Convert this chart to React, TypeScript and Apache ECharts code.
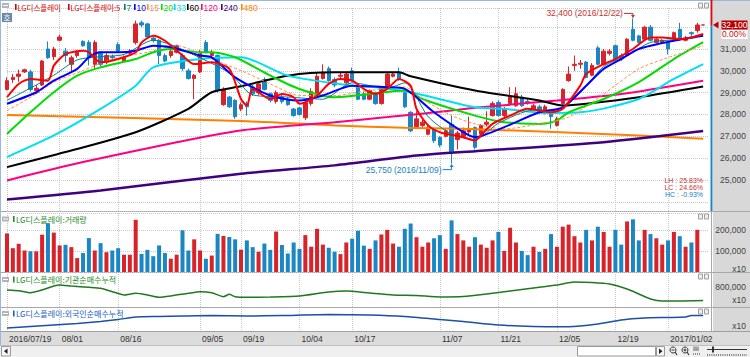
import React, { useEffect, useRef } from 'react';
import * as echarts from 'echarts';

const stockName = 'LG디스플레이';

const dates = [
  '2016/07/19','2016/07/20','2016/07/21','2016/07/22','2016/07/25','2016/07/26','2016/07/27','2016/07/28','2016/07/29',
  '2016/08/01','2016/08/02','2016/08/03','2016/08/04','2016/08/05','2016/08/08','2016/08/09','2016/08/10','2016/08/11','2016/08/12',
  '2016/08/16','2016/08/17','2016/08/18','2016/08/19','2016/08/22','2016/08/23','2016/08/24','2016/08/25','2016/08/26','2016/08/29','2016/08/30','2016/08/31',
  '2016/09/01','2016/09/02','2016/09/05','2016/09/06','2016/09/07','2016/09/08','2016/09/09','2016/09/12','2016/09/13',
  '2016/09/19','2016/09/20','2016/09/21','2016/09/22','2016/09/23','2016/09/26','2016/09/27','2016/09/28','2016/09/29','2016/09/30',
  '2016/10/04','2016/10/05','2016/10/06','2016/10/07','2016/10/10','2016/10/11','2016/10/12','2016/10/13','2016/10/14',
  '2016/10/17','2016/10/18','2016/10/19','2016/10/20','2016/10/21','2016/10/24','2016/10/25','2016/10/26','2016/10/27','2016/10/28','2016/10/31',
  '2016/11/01','2016/11/02','2016/11/03','2016/11/04','2016/11/07','2016/11/08','2016/11/09','2016/11/10','2016/11/11',
  '2016/11/14','2016/11/15','2016/11/16','2016/11/17','2016/11/18','2016/11/21','2016/11/22','2016/11/23','2016/11/24','2016/11/25',
  '2016/11/28','2016/11/29','2016/11/30',
  '2016/12/01','2016/12/02','2016/12/05','2016/12/06','2016/12/07','2016/12/08','2016/12/09','2016/12/12','2016/12/13','2016/12/14',
  '2016/12/15','2016/12/16','2016/12/19','2016/12/20','2016/12/21','2016/12/22','2016/12/23','2016/12/26','2016/12/27','2016/12/28','2016/12/29',
  '2017/01/02','2017/01/03','2017/01/04','2017/01/05','2017/01/06','2017/01/09','2017/01/10',
  '',
];

// [open, close, low, high]
const candles: number[][] = [
  [29150,29550,29100,29700],[29600,29700,29450,29850],[29750,29850,29500,30050],[29950,30050,29900,30100],
  [29950,29150,29050,30050],[29100,29200,28950,29350],[29350,30450,29300,30500],[31000,30600,30550,31350],
  [30650,31000,30500,31100],[31400,31550,31350,31650],[30900,30700,30400,31050],[30300,30600,29950,30700],
  [30700,30850,30600,30950],[31350,31150,31100,31400],[31300,30600,30250,31400],[30300,31300,30100,31400],
  [30850,30300,30200,30900],[30400,30700,30300,30800],[30650,30600,30500,30750],[31200,30900,30850,31300],
  [30450,30600,30400,30700],[30800,30900,30750,31000],[31300,32150,31200,32300],[32200,32100,32000,32300],
  [32150,31550,31500,32200],[31500,31400,31300,31550],[31400,30700,30300,31450],[30700,30450,30400,30800],
  [30700,30900,30600,31100],[30850,31150,30800,31200],[30700,30100,30000,30800],[30000,29650,29600,30100],
  [29650,29800,28700,29850],[29950,30850,29900,30950],[31300,30850,30800,31400],[30700,30850,30600,30950],
  [30700,29100,29000,30750],[28450,29150,28400,29250],[28800,28350,28300,28850],[28650,27900,27800,28700],
  [28250,28450,28150,28550],[28500,28350,27950,28600],[29250,28950,28850,29350],[29000,29400,28900,29500],
  [29600,29150,29100,29700],[28950,28650,28550,29000],[28600,29000,28500,29100],[28800,28600,28500,28900],
  [28700,28450,28400,28800],[28250,27950,27900,28300],[28300,28000,27950,28350],[27850,28550,27750,28700],
  [28500,29050,28400,29200],[28950,29750,28900,29950],[29650,29900,29600,30300],[30100,29550,29500,30200],
  [29600,29350,29250,29700],[29750,29800,29650,29900],[29450,29850,29400,29950],[30000,29550,29500,30150],
  [29300,28700,28650,29350],[28950,28700,28650,29050],[28700,29100,28650,29150],[29000,28500,28450,29050],
  [28500,29250,28450,29300],[29300,29850,29250,29900],[29750,29850,29700,29950],[29950,29600,29550,30150],
  [29000,28350,28300,29100],[28100,27250,27200,28150],[27450,27800,27400,28150],[27500,27650,27400,27750],
  [27100,27400,27050,27500],[27350,26800,26700,27400],[26950,26600,26500,27000],[27000,27250,26950,27350],
  [27550,26300,25750,27950],[26850,27150,26400,27250],[27000,27250,26950,27400],[27200,27350,27100,27900],
  [27400,26500,26400,27450],[27100,27500,27050,27550],[27550,27650,27450,28150],[27950,28500,27900,28600],
  [28550,27950,27900,28650],[27950,28250,27850,28350],[28500,28800,28400,29250],[28400,28950,28350,29250],
  [28800,28400,28350,28900],[28600,28550,28450,28700],[28250,28400,28200,28500],[28350,28100,28050,28450],
  [28100,28350,28000,28450],[28100,27900,27350,28150],[27500,27800,27450,27900],[28500,29150,28450,29200],
  [29550,29850,29500,30200],[30250,30300,30000,30700],[30300,30350,30100,30500],[30400,29700,29650,30450],
  [29800,30250,29750,30350],[31050,30300,30250,31150],[30300,30900,30250,31000],[30800,30900,30700,31000],
  [31150,30550,30500,31200],[30700,30550,30450,30800],[30700,31450,30650,31500],[31900,31400,31350,32400],
  [31600,31300,31250,31650],[31450,32000,31400,32050],[32000,31400,31350,32100],[31300,31450,31250,31500],
  [31300,31400,31250,31450],[31300,31000,30750,31350],[31450,31750,31400,31800],[31900,31450,31400,32200],
  [31400,31500,31350,31600],[31750,31700,31600,31800],[31850,32100,31750,32200],[32100,32100,32100,32100],
];

const volumes = [
  183000,113000,134000,102000,98000,98000,177000,232000,187000,126000,
  129000,118000,66000,90000,161000,102000,137000,94000,102000,113000,
  82000,82000,248000,86000,105000,75000,126000,90000,63000,82000,
  198000,102000,155000,102000,63000,78000,181000,171000,166000,155000,
  106000,150000,118000,96000,135000,105000,192000,128000,88000,140000,
  110000,175000,120000,205000,130000,115000,96000,85000,140000,158000,
  196000,125000,110000,150000,178000,200000,135000,120000,205000,230000,
  165000,120000,140000,160000,175000,110000,245000,180000,150000,120000,
  165000,130000,115000,150000,190000,100000,210000,140000,100000,80000,
  120000,95000,110000,180000,120000,215000,225000,170000,140000,200000,
  150000,215000,190000,120000,200000,130000,240000,250000,150000,200000,
  180000,160000,130000,150000,190000,170000,120000,140000,200000,0,
];

// moving averages: [candle index, price]
const ma5 = [[0,28790],[2,29400],[4,29630],[7,29550],[8,30240],[10,30770],[13,30920],[14,30850],[16,30390],[19,30540],[22,30850],[23,31300],[25,31610],[27,31380],[30,30700],[32,30310],[35,30390],[38,30090],[40,28710],[41,28410],[42,29170],[45,28710],[47,28940],[49,28790],[50,28490],[53,28870],[55,29400],[57,29630],[59,29550],[61,29170],[63,28940],[65,29170],[67,29630],[69,29320],[70,28260],[72,27500],[74,27190],[78,26960],[80,26810],[81,27040],[83,27570],[86,27950],[89,28260],[93,28100],[95,28260],[98,29320],[99,29860],[102,30310],[104,30540],[107,31000],[110,31530],[112,31530],[115,31460],[117,31530],[119,31690]];
const ma7 = [[0,28650],[5,29350],[8,29800],[12,30500],[16,30650],[20,30750],[25,31400],[28,31200],[33,30600],[38,29900],[42,28900],[48,28800],[54,28700],[59,29450],[65,29200],[68,29450],[72,27900],[76,27100],[80,26850],[84,27600],[90,28200],[94,28200],[98,29000],[102,30200],[106,30700],[110,31300],[115,31450],[119,31650]];
const ma10 = [[0,28490],[5,29020],[8,29550],[12,30090],[14,30620],[16,30850],[19,30850],[22,30920],[25,31150],[28,31080],[33,30700],[35,30620],[39,29700],[45,28870],[50,28640],[54,28870],[59,29320],[65,29250],[68,29170],[73,28100],[78,27190],[80,26960],[85,27420],[91,28100],[95,28330],[99,29320],[102,30090],[105,30540],[108,31000],[114,31380],[119,31610]];
const ma15 = [[0,28180],[5,28940],[8,29480],[13,30010],[18,30540],[24,30850],[29,31150],[35,30540],[40,30010],[45,29400],[50,28870],[56,28870],[62,29100],[68,29250],[71,28710],[76,27950],[80,27570],[85,27340],[91,27570],[96,27880],[102,28940],[108,30090],[114,30700],[119,31150]];
const ma20 = [[0,27110],[4,28100],[8,29020],[12,29780],[16,30160],[22,30540],[25,30850],[28,31000],[33,30850],[35,30850],[39,30620],[45,29780],[50,29170],[56,28790],[62,28940],[68,29100],[71,28710],[80,27950],[85,27650],[91,27570],[94,27720],[96,28100],[102,28710],[108,29480],[114,30540],[119,31310]];
const ma33 = [[0,26050],[8,27040],[16,28260],[22,29320],[25,30160],[33,30540],[40,30620],[48,29780],[59,29320],[63,29250],[69,29020],[80,28330],[85,28260],[92,28070],[98,28100],[108,28710],[114,29630],[119,30310]];
const ma60 = [[0,25590],[10,26280],[22,27190],[31,28260],[35,29020],[40,29290],[48,29780],[56,29930],[67,29930],[69,29750],[80,29100],[91,28640],[95,28410],[99,28490],[108,28790],[119,29280]];
const ma120 = [[0,24980],[13,25820],[29,26730],[40,27270],[56,27650],[65,27880],[76,28180],[80,28310],[94,28640],[105,28940],[119,29550]];
const ma240 = [[0,24110],[16,24520],[40,25290],[56,25670],[70,26120],[80,26320],[102,26730],[119,27240]];
const ma480 = [[0,27980],[40,27700],[56,27500],[68,27390],[79,27340],[108,27040],[119,26890]];

// cumulative net buying: [candle index, value]
const instCum = [[0,715000],[2,694000],[4,633000],[6,715000],[8,836000],[9,867000],[11,836000],[14,797000],[16,767000],[18,664000],[20,564000],[22,615000],[24,564000],[26,494000],[28,533000],[31,615000],[33,664000],[35,633000],[37,512000],[38,585000],[39,512000],[41,494000],[45,503000],[50,533000],[55,655000],[58,685000],[62,624000],[66,564000],[70,548000],[74,503000],[78,518000],[82,594000],[86,685000],[90,776000],[94,867000],[97,958000],[100,942000],[103,897000],[106,745000],[108,594000],[110,442000],[112,382000],[115,382000],[119,397000]];
const foreignCum = [[0,300000],[4,450000],[8,600000],[12,750000],[16,950000],[19,1150000],[22,1400000],[26,1450000],[30,1500000],[35,1550000],[41,1500000],[47,1550000],[55,1650000],[62,1600000],[68,1450000],[74,1150000],[78,950000],[84,600000],[90,450000],[96,430000],[101,700000],[105,1100000],[109,1300000],[113,1350000],[116,1400000],[117,1550000],[119,1550000]];

const tickDates = ['2016/07/19','2016/08/01','2016/08/16','2016/09/05','2016/09/19','2016/10/04','2016/10/17','2016/11/07','2016/11/21','2016/12/05','2016/12/19','2017/01/02'];
const tickLabels = ['2016/07/19','08/01','08/16','09/05','09/19','10/04','10/17','11/07','11/21','12/05','12/19','2017/01/02'];

const maPeriods = ['5','7','10','15','20','33','60','120','240','480'];
const maColors = ['#ff0000','#008080','#0000ff','#ff8c50','#00dd00','#00e0f0','#000000','#ff0080','#400080','#ff8000'];

const UP = '#d8232a';
const DOWN = '#1a87c4';
const fmt = (v: number) => v.toLocaleString('en-US');
const KR = '"Noto Sans CJK KR"';
const LAT = '"Liberation Sans"';

export default function App() {
  const ref = useRef<HTMLDivElement>(null);

  useEffect(() => {
    if (!ref.current) return;
    const chart = echarts.init(ref.current, undefined, { renderer: 'svg' });
    const tickIdx = tickDates.map((d) => dates.indexOf(d));
    const isTick = (i: number) => tickIdx.includes(i);

    const grids = [
      { left: 7, right: 41, top: 8, height: 203 },
      { left: 7, right: 41, top: 213, height: 59 },
      { left: 7, right: 41, top: 274, height: 33 },
      { left: 7, right: 41, top: 309, height: 22 },
    ];
    const split = { show: true, lineStyle: { color: '#c8c8c8', type: 'dotted' as const, width: 1 } };
    const xAxes = grids.map((_, gi) => ({
      type: 'category', gridIndex: gi, data: dates, boundaryGap: false,
      axisLine: { show: false }, axisTick: { show: false },
      axisLabel: gi === 3 ? {
        show: true, interval: (i: number) => isTick(i),
        formatter: (_v: string, i: number) => (isTick(i) ? tickLabels[tickIdx.indexOf(i)] : ''),
        align: 'left', margin: 3, padding: [0, 0, 0, 2], fontSize: 8.5, color: '#333', fontFamily: 'Liberation Sans',
      } : { show: false },
      splitLine: { ...split, interval: (i: number) => isTick(i) },
    }));
    const yLabel = (show: (v: number) => boolean) => ({
      margin: 37, align: 'right', fontSize: 8.5, color: '#444', fontFamily: 'Liberation Sans',
      formatter: (v: number) => (show(v) ? fmt(v) : ''),
    });
    const yAxes = [
      { type: 'value', gridIndex: 0, position: 'right', min: 23580, max: 32878, splitNumber: 9,
        axisLine: { show: false }, axisTick: { show: false },
        axisLabel: yLabel((v) => v >= 25000 && v <= 31000 && v % 1000 === 0), splitLine: split },
      { type: 'value', gridIndex: 1, position: 'right', min: 0, max: 280000, interval: 100000,
        axisLine: { show: false }, axisTick: { show: false },
        axisLabel: yLabel((v) => v === 100000 || v === 200000), splitLine: split },
      { type: 'value', gridIndex: 2, position: 'right', min: 200000, max: 1200000, interval: 200000,
        axisLine: { show: false }, axisTick: { show: false },
        axisLabel: yLabel((v) => v === 800000), splitLine: { show: false } },
      { type: 'value', gridIndex: 3, position: 'right', min: 0, max: 2200000,
        axisLine: { show: false }, axisTick: { show: false }, axisLabel: { show: false }, splitLine: { show: false } },
    ];

    const maData = [ma5, ma7, ma10, ma15, ma20, ma33, ma60, ma120, ma240, ma480];
    const maWidth = [2, 1, 2, 1, 2, 2, 2, 2, 2.5, 2];
    const drawOrder = [9, 8, 7, 6, 5, 4, 3, 1, 2, 0];
    const maSeries = drawOrder.map((k) => ({
      type: 'line', name: 'MA' + maPeriods[k], xAxisIndex: 0, yAxisIndex: 0,
      data: maData[k], showSymbol: false, symbol: 'none', smooth: 0.25, silent: true,
      lineStyle: { color: maColors[k], width: maWidth[k], type: k === 3 ? [3, 2] : 'solid' },
      z: 3,
    }));

    const volData = volumes.map((v, i) => ({
      value: v,
      itemStyle: { color: candles[i][1] >= candles[i][0] ? UP : DOWN },
    }));

    // static decorations
    const G: any[] = [];
    const text = (x: number, y: number, t: string, fill: string, size: number, family: string, align = 'left') => ({
      type: 'text', x, y, silent: true, z: 20,
      style: { text: t, fill, font: `${size}px ${family}`, textAlign: align, textVerticalAlign: 'middle' },
    });
    const rect = (x: number, y: number, w: number, h: number, fill: string, stroke?: string) => ({
      type: 'rect', silent: true, z: 20, shape: { x, y, width: w, height: h },
      style: { fill, stroke: stroke || null, lineWidth: 1 },
    });
    const menuIcon = (y: number) => {
      G.push(rect(2, y, 7, 5, '#b4b4b4'));
      G.push({ type: 'line', silent: true, z: 21, shape: { x1: 3, y1: y + 2.5, x2: 8, y2: y + 2.5 }, style: { stroke: '#ffffff', lineWidth: 1 } });
    };
    const cornerBtns = (y: number) => {
      G.push(rect(698.5, y, 4, 5, '#eeeeee', '#a0a0a0'));
      G.push(rect(704.5, y, 4, 5, '#eeeeee', '#a0a0a0'));
    };
    // legend
    menuIcon(3);
    const legTexts = [stockName, stockName + ':' + maPeriods[0], ...maPeriods.slice(1)];
    const legColors = ['#d80000', '#d80000', ...maColors.slice(1)];
    const legX = [15, 68, 124, 134, 147, 161, 174, 187, 201, 221, 241];
    legTexts.forEach((t, k) => {
      const kr = /[가-힣]/.test(t);
      G.push(rect(legX[k], 4, 1.6, 6, legColors[k]));
      G.push(text(legX[k] + 2.5, 7.5, t, legColors[k], kr ? 7.5 : 8.5, kr ? KR : LAT));
    });
    // 호 button
    G.push(rect(2, 13, 10, 9, '#6a88aa'));
    G.push(text(7, 17.5, '호', '#ffffff', 7.5, KR, 'center'));
    // panel titles
    const titles = [
      { y: 219, t: stockName + ':거래량', c: '#2a8a2a' },
      { y: 279.5, t: stockName + ':기관순매수누적', c: '#2a8a2a' },
      { y: 313.5, t: stockName + ':외국인순매수누적', c: '#2060c0' },
    ];
    titles.forEach((p) => {
      menuIcon(p.y - 2.5);
      G.push(rect(13, p.y - 3, 1.6, 6, p.c));
      G.push(text(16, p.y, p.t, p.c, 8, KR));
    });
    [3, 214, 274, 309].forEach(cornerBtns);
    // x10 unit labels
    [268.5, 299.5, 325.5].forEach((y) => G.push(text(746, y, 'x10', '#444', 8.5, LAT, 'right')));

    // range statistics from the data
    let hiI = 0, loI = 0;
    candles.forEach((c, i) => { if (c[3] > candles[hiI][3]) hiI = i; if (c[2] < candles[loI][2]) loI = i; });
    const hi = candles[hiI][3], lo = candles[loI][2];
    const last = candles[candles.length - 1][1];
    const prev = candles[candles.length - 2][1];
    const pct = (a: number, b: number) => (((a - b) / b) * 100).toFixed(2) + '%';
    G.push(text(703, 180, 'LH : ' + pct(hi, lo), '#c83030', 7, LAT, 'right'));
    G.push(text(703, 187, 'LC : ' + pct(last, lo), '#c83030', 7, LAT, 'right'));
    G.push(text(703, 194, 'HC : ' + pct(last, hi), '#2080c0', 7, LAT, 'right'));

    // scroll bar row
    G.push(rect(1.5, 346.5, 9, 9.5, '#f6f6f6', '#9a9a9a'));
    G.push({ type: 'polygon', silent: true, z: 21, shape: { points: [[4, 351.2], [7.5, 348.5], [7.5, 354]] }, style: { fill: '#222' } });
    G.push(rect(577.5, 346.5, 78, 9.5, '#ffffff', '#9a9a9a'));
    G.push(rect(656.5, 346.5, 8, 9.5, '#f6f6f6', '#9a9a9a'));
    G.push({ type: 'polygon', silent: true, z: 21, shape: { points: [[662.5, 351.2], [659, 348.5], [659, 354]] }, style: { fill: '#222' } });
    [673, 685].forEach((cx, k) => {
      G.push({ type: 'circle', silent: true, z: 21, shape: { cx, cy: 350, r: 3 }, style: { fill: 'none', stroke: '#333', lineWidth: 1 } });
      G.push({ type: 'line', silent: true, z: 21, shape: { x1: cx + 2, y1: 352, x2: cx + 4, y2: 355 }, style: { stroke: '#333', lineWidth: 1.2 } });
      G.push({ type: 'line', silent: true, z: 21, shape: { x1: cx - 1.5, y1: 350, x2: cx + 1.5, y2: 350 }, style: { stroke: '#333', lineWidth: 1 } });
      if (k === 1) G.push({ type: 'line', silent: true, z: 21, shape: { x1: cx, y1: 348.5, x2: cx, y2: 351.5 }, style: { stroke: '#333', lineWidth: 1 } });
    });
    [694, 696, 698].forEach((x) => G.push({ type: 'line', silent: true, z: 21, shape: { x1: x, y1: 346.5, x2: x, y2: 351 }, style: { stroke: '#333', lineWidth: 0.8 } }));
    G.push({ type: 'line', silent: true, z: 21, shape: { x1: 693, y1: 354, x2: 700, y2: 354 }, style: { stroke: '#333', lineWidth: 1, lineDash: [1, 1] } });
    G.push({ type: 'line', silent: true, z: 21, shape: { x1: 707, y1: 349.5, x2: 747, y2: 349.5 }, style: { stroke: '#333', lineWidth: 1 } });
    G.push(rect(712, 346.5, 2, 6, '#333'));
    G.push({ type: 'line', silent: true, z: 21, shape: { x1: 707, y1: 355, x2: 747, y2: 355 }, style: { stroke: '#555', lineWidth: 1.5, lineDash: [1, 1.2] } });

    const option: any = {
      animation: false,
      textStyle: { fontFamily: 'Liberation Sans' },
      grid: grids,
      xAxis: xAxes,
      yAxis: yAxes,
      series: [
        {
          type: 'candlestick', xAxisIndex: 0, yAxisIndex: 0, data: candles.slice(0, 120), barWidth: 4, clip: false, silent: true,
          itemStyle: { color: UP, color0: DOWN, borderColor: UP, borderColor0: DOWN, borderWidth: 1 }, z: 2,
        },
        ...maSeries,
        { type: 'bar', xAxisIndex: 1, yAxisIndex: 1, data: volData, barWidth: 4, silent: true },
        { type: 'line', xAxisIndex: 2, yAxisIndex: 2, data: instCum, showSymbol: false, symbol: 'none', smooth: 0.2, silent: true,
          lineStyle: { color: '#1f7a1f', width: 1.5 } },
        { type: 'line', xAxisIndex: 3, yAxisIndex: 3, data: foreignCum, showSymbol: false, symbol: 'none', smooth: 0.2, silent: true,
          lineStyle: { color: '#1a50a8', width: 1.5 } },
      ],
      graphic: G,
    };
    chart.setOption(option);

    // data-anchored annotations
    const P = (i: number, v: number) => chart.convertToPixel({ gridIndex: 0 }, [dates[i], v]) as number[];
    const [hx, hy] = P(hiI, hi);
    const [lx, ly] = P(loI, lo);
    const [, cy] = P(119, last);
    const D: any[] = [...G];
    const hc = '#c83030', lc = '#2080c0';
    D.push(text(hx - 10, hy - 5, `${fmt(hi)} (${dates[hiI]})`, hc, 8.5, LAT, 'right'));
    D.push({ type: 'polyline', silent: true, z: 21, shape: { points: [[hx - 9, hy - 5], [hx, hy - 5], [hx, hy - 1]] }, style: { stroke: hc, lineWidth: 1, fill: 'none' } });
    D.push({ type: 'polygon', silent: true, z: 21, shape: { points: [[hx - 2, hy - 3.5], [hx + 2, hy - 3.5], [hx, hy - 0.5]] }, style: { fill: hc } });
    D.push(text(lx - 10, ly + 6, `${fmt(lo)} (${dates[loI]})`, lc, 8.5, LAT, 'right'));
    D.push({ type: 'polyline', silent: true, z: 21, shape: { points: [[lx - 9, ly + 6], [lx, ly + 6], [lx, ly + 1]] }, style: { stroke: lc, lineWidth: 1, fill: 'none' } });
    D.push({ type: 'polygon', silent: true, z: 21, shape: { points: [[lx - 2, ly + 3.5], [lx + 2, ly + 3.5], [lx, ly + 0.5]] }, style: { fill: lc } });
    // current price marker
    D.push({ type: 'line', silent: true, z: 21, shape: { x1: 711.5, y1: 0, x2: 711.5, y2: cy }, style: { stroke: '#d01010', lineWidth: 2 } });
    D.push({ type: 'line', silent: true, z: 21, shape: { x1: 711.5, y1: cy, x2: 711.5, y2: 211 }, style: { stroke: '#1a87c4', lineWidth: 2 } });
    D.push({ type: 'polygon', silent: true, z: 21, shape: { points: [[713, cy], [718.5, cy - 3.5], [718.5, cy + 3.5]] }, style: { fill: '#c00000' } });
    D.push(rect(721.5, cy - 4.5, 26, 9, '#b80000'));
    D.push(text(734.5, cy, fmt(last), '#ffffff', 8.5, LAT, 'center'));
    D.push(rect(721.5, cy + 5, 26, 9, '#ffffff'));
    D.push(text(746, cy + 9.5, pct(last, prev), '#d01010', 8.5, LAT, 'right'));
    chart.setOption({ graphic: D }, { replaceMerge: ['graphic'] });

    return () => chart.dispose();
  }, []);

  const bg = (l: number, t: number, w: number, h: number, c: string) => (
    <div style={{ position: 'absolute', left: l, top: t, width: w, height: h, background: c }} />
  );

  return (
    <div style={{ position: 'fixed', left: 0, top: 0, width: 750, height: 357, background: '#ffffff', overflow: 'hidden' }}>
      {bg(713, 0, 37, 332, '#d8d8d8')}
      {bg(0, 332, 750, 13, '#dcdcdc')}
      {bg(0, 345, 750, 12, '#f0f0f0')}
      {bg(0, 211, 750, 1, '#a8a8a8')}
      {bg(0, 272, 750, 1, '#a8a8a8')}
      {bg(0, 307, 750, 1, '#a8a8a8')}
      {bg(0, 331, 750, 1, '#a0a0a0')}
      {bg(0, 344.5, 750, 1, '#c0c0c0')}
      {bg(711, 211, 1, 121, '#a8a8a8')}
      {bg(0, 0, 750, 1, '#9ab8dc')}
      {bg(0, 0, 1, 345, '#9ab8dc')}
      <div ref={ref} style={{ position: 'absolute', left: 0, top: 0, width: 750, height: 357 }} />
    </div>
  );
}
